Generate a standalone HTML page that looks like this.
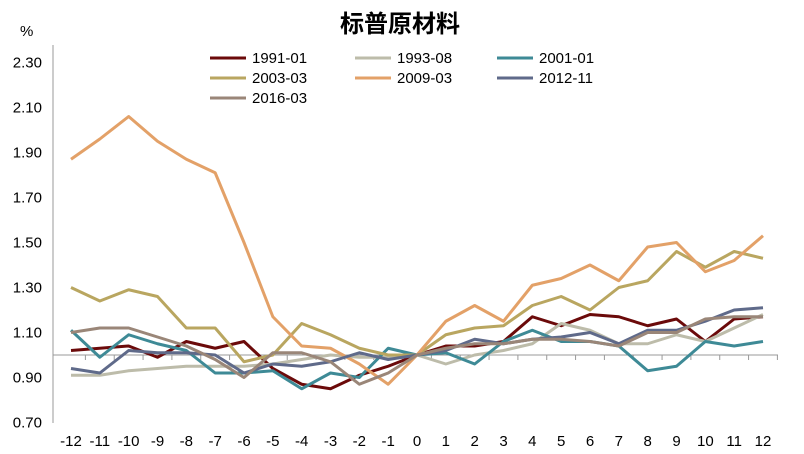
<!DOCTYPE html>
<html><head><meta charset="utf-8"><style>
body{margin:0;background:#fff;}
svg{display:block;font-family:"Liberation Sans","Noto Sans CJK SC",sans-serif;}
</style></head><body>
<svg id="c" width="804" height="454">
<text x="400" y="32" text-anchor="middle" font-size="24" font-weight="bold">标普原材料</text>
<text x="20" y="36" font-size="15">%</text>
<line x1="53" y1="45" x2="53" y2="423" stroke="#999"/>
<g id="yt"></g><g id="xt"></g><g id="lines"></g><g id="legend"></g>
</svg>
<script>
const xCats=[-12,-11,-10,-9,-8,-7,-6,-5,-4,-3,-2,-1,0,1,2,3,4,5,6,7,8,9,10,11,12];
const yTicks=["0.70","0.90","1.10","1.30","1.50","1.70","1.90","2.10","2.30"];
const names=["1991-01","1993-08","2001-01","2003-03","2009-03","2012-11","2016-03"];
const colors=["#6b0a0a","#bdbcaa","#3e8a96","#b9a660","#e3a168","#5f6a8a","#9a8678"];
const s1991=[1.02,1.03,1.04,0.99,1.06,1.03,1.06,0.94,0.87,0.85,0.91,0.95,1.00,1.04,1.04,1.06,1.17,1.13,1.18,1.17,1.13,1.16,1.06,1.16,1.17];
const s1993=[0.91,0.91,0.93,0.94,0.95,0.95,0.95,0.96,0.98,1.00,0.99,0.99,1.00,0.96,1.00,1.02,1.05,1.14,1.11,1.05,1.05,1.09,1.06,1.12,1.18];
const s2001=[1.11,0.99,1.09,1.05,1.02,0.92,0.92,0.93,0.85,0.92,0.90,1.03,1.00,1.01,0.96,1.06,1.11,1.06,1.06,1.04,0.93,0.95,1.06,1.04,1.06];
const s2003=[1.30,1.24,1.29,1.26,1.12,1.12,0.97,1.00,1.14,1.09,1.03,1.00,1.00,1.09,1.12,1.13,1.22,1.26,1.20,1.30,1.33,1.46,1.39,1.46,1.43];
const s2009=[1.87,1.96,2.06,1.95,1.87,1.81,1.50,1.17,1.04,1.03,0.96,0.87,1.00,1.15,1.22,1.15,1.31,1.34,1.40,1.33,1.48,1.50,1.37,1.42,1.53];
const s2012=[0.94,0.92,1.02,1.01,1.01,1.00,0.92,0.96,0.95,0.97,1.01,0.98,1.00,1.02,1.07,1.05,1.07,1.08,1.10,1.05,1.11,1.11,1.15,1.20,1.21];
const s2016=[1.10,1.12,1.12,1.08,1.04,0.98,0.90,1.01,1.01,0.97,0.87,0.92,1.00,1.03,1.05,1.05,1.07,1.07,1.06,1.04,1.10,1.10,1.16,1.17,1.17];
const series=[s1991,s1993,s2001,s2003,s2009,s2012,s2016];
const NS="http://www.w3.org/2000/svg";
const X=v=>71+(v+12)*(692/24);
const Y=v=>355-(v-1)*225;
function mk(t,a,p){const e=document.createElementNS(NS,t);for(const k in a)e.setAttribute(k,a[k]);p.appendChild(e);return e;}
const yt=document.getElementById('yt');
yTicks.forEach(t=>{const e=mk('text',{x:42,y:Y(+t)+5,'text-anchor':'end','font-size':15},yt);e.textContent=t;

});
const xt=document.getElementById('xt');
const ax=mk('line',{x1:53,y1:355,x2:778,y2:355,stroke:'#999'},xt);


xCats.forEach(c=>{const tk=mk('line',{x1:X(c)+14.4,y1:355,x2:X(c)+14.4,y2:360,stroke:'#999'},xt);


const e=mk('text',{x:X(c),y:446,'text-anchor':'middle','font-size':15},xt);e.textContent=c;

});
const lg=document.getElementById('lines');
series.forEach((s,i)=>{const p=mk('polyline',{points:s.map((v,j)=>X(xCats[j])+','+Y(v)).join(' '),fill:'none',stroke:colors[i],'stroke-width':3,'stroke-linejoin':'round'},lg);

});
const leg=document.getElementById('legend');
const colX=[210,355,497];
names.forEach((n,i)=>{const cx=colX[i%3],cy=58+Math.floor(i/3)*20;
const g=mk('g',{},leg);


mk('line',{x1:cx,y1:cy,x2:cx+36,y2:cy,stroke:colors[i],'stroke-width':3},g);
const t=mk('text',{x:cx+42,y:cy+5,'font-size':15},g);t.textContent=n;});
</script>
</body></html>
